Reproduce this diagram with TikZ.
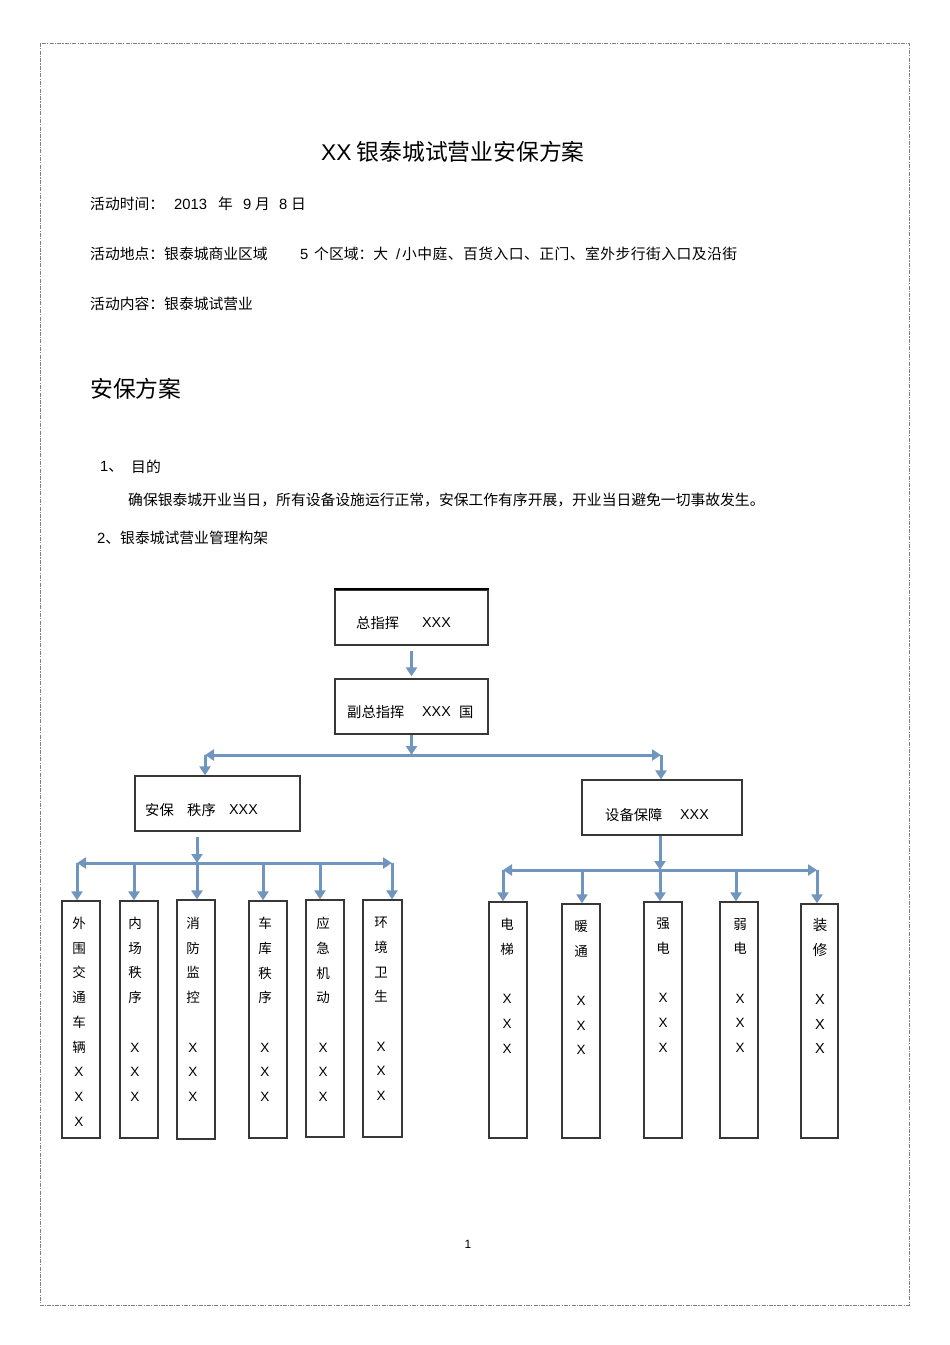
\documentclass[tikz,border=0pt]{standalone}
\usepackage{fontspec}
\setmainfont{Noto Sans CJK SC}
\newfontfamily\lat{Liberation Sans}
\newfontfamily\cjkwide[LetterSpace=3]{Noto Sans CJK SC}
\usetikzlibrary{arrows.meta}
\definecolor{arrblue}{RGB}{112,150,192}
\definecolor{boxgray}{RGB}{55,55,55}
\begin{document}
\begin{tikzpicture}[x=1pt,y=-1pt,
 txt/.style={anchor=west,inner sep=0,font=\fontsize{14.8}{17}\selectfont},
 bigtxt/.style={anchor=west,inner sep=0,font=\fontsize{22.8}{26}\selectfont},
 boxtxt/.style={anchor=west,inner sep=0,font=\fontsize{14.3}{17}\selectfont},
 frame/.style={draw=boxgray,line width=1.3pt,inner sep=0},
 conn/.style={draw=arrblue,line width=3pt,-{Triangle[width=11pt,length=9pt]}},
 col/.style={anchor=north,inner sep=0,align=center,font=\fontsize{13.5}{24.7}\selectfont}
]
\useasboundingbox (0,0) rectangle (950,1345);
\draw[gray,line width=0.8pt,dash pattern=on 4pt off 1.2pt on 1.2pt off 1.2pt] (40,43) rectangle (909,1305);

% title and texts
\node[bigtxt] (title) at (321,152) {{\lat XX} 银泰城试营业安保方案};
\node[txt] (d1) at (90,204) {活动时间：};
\node[txt] (d1a) at (174,204) {\lat 2013};
\node[txt] (d1b) at (218,204) {年};
\node[txt] (d1c) at (243,204) {\lat 9};
\node[txt] (d1d) at (255,204) {月};
\node[txt] (d1e) at (279,204) {\lat 8};
\node[txt] (d1f) at (291,204) {日};
\node[txt] (d2) at (90,254) {活动地点：银泰城商业区域};
\node[txt] (d2a) at (300,254) {\lat 5};
\node[txt] (d2b) at (314,254) {个区域：大};
\node[txt] (d2c) at (396,254) {\lat /};
\node[txt] (d2d) at (402,254) {\cjkwide 小中庭、百货入口、正门、室外步行街入口及沿街};
\node[txt] (d3) at (90,304) {活动内容：银泰城试营业};
\node[bigtxt] (h1) at (90,389) {安保方案};
\node[txt] (s1) at (100,467) {{\lat 1}、};
\node[txt] (s1b) at (131,467) {目的};
\node[txt] (s1c) at (128,500) {确保银泰城开业当日，所有设备设施运行正常，安保工作有序开展，开业当日避免一切事故发生。};
\node[txt] (s2) at (97,538) {{\lat 2}、银泰城试营业管理构架};
\node[anchor=center,inner sep=0,font=\lat\fontsize{12}{14}\selectfont] (pg) at (468,1244) {1};

% top boxes
\node[frame,minimum width=153pt,minimum height=55pt] (zz) at (411.5,617.5) {};
\draw[black,line width=2pt] (zz.north west) -- (zz.north east);
\node[boxtxt] (zzt) at (356,623) {总指挥};
\node[boxtxt] (zzx) at (422,623) {\lat XXX};
\node[frame,minimum width=153pt,minimum height=55pt] (fz) at (411.5,706.5) {};
\node[boxtxt] (fzt) at (347,712) {副总指挥};
\node[boxtxt] (fzx) at (422,712) {\lat XXX};
\node[boxtxt] (fzg) at (459,712) {国};
\node[frame,minimum width=165pt,minimum height=55pt] (ab) at (217.5,803.5) {};
\node[boxtxt] (abt1) at (145,810) {安保};
\node[boxtxt] (abt2) at (187,810) {秩序};
\node[boxtxt] (abx) at (229,810) {\lat XXX};
\node[frame,minimum width=160pt,minimum height=55pt] (sb) at (662,807.5) {};
\node[boxtxt] (sbt) at (605,815) {设备保障};
\node[boxtxt] (sbx) at (680,815) {\lat XXX};

% left columns
\node[frame,minimum width=38pt,minimum height=237pt] (b1) at (81,1019.5) {};
\node[frame,minimum width=38pt,minimum height=237pt] (b2) at (139,1019.5) {};
\node[frame,minimum width=38pt,minimum height=239pt] (b3) at (196,1019.5) {};
\node[frame,minimum width=38pt,minimum height=237pt] (b4) at (268,1019.5) {};
\node[frame,minimum width=38pt,minimum height=237pt] (b5) at (325,1018.5) {};
\node[frame,minimum width=39pt,minimum height=237pt] (b6) at (382.5,1018.5) {};
\node[col] (b1t) at (79,917) {外\\围\\交\\通\\车\\辆\\{\lat X}\\{\lat X}\\{\lat X}};
\node[col] (b2t) at (135,917) {内\\场\\秩\\序\\\mbox{}\\{\lat X}\\{\lat X}\\{\lat X}};
\node[col] (b3t) at (193,917) {消\\防\\监\\控\\\mbox{}\\{\lat X}\\{\lat X}\\{\lat X}};
\node[col] (b4t) at (265,917) {车\\库\\秩\\序\\\mbox{}\\{\lat X}\\{\lat X}\\{\lat X}};
\node[col] (b5t) at (323,917) {应\\急\\机\\动\\\mbox{}\\{\lat X}\\{\lat X}\\{\lat X}};
\node[col] (b6t) at (381,917) {环\\境\\卫\\生\\\mbox{}\\{\lat X}\\{\lat X}\\{\lat X}};

% right columns
\node[frame,minimum width=38pt,minimum height=236pt] (r1) at (508,1020) {};
\node[frame,minimum width=38pt,minimum height=234pt] (r2) at (581,1021) {};
\node[frame,minimum width=38pt,minimum height=236pt] (r3) at (663,1020) {};
\node[frame,minimum width=38pt,minimum height=236pt] (r4) at (739,1020) {};
\node[frame,minimum width=37pt,minimum height=234pt] (r5) at (819.5,1021) {};
\node[col] (r1t) at (507,918) {电\\梯\\\mbox{}\\{\lat X}\\{\lat X}\\{\lat X}};
\node[col] (r2t) at (581,920) {暖\\通\\\mbox{}\\{\lat X}\\{\lat X}\\{\lat X}};
\node[col] (r3t) at (663,918) {强\\电\\\mbox{}\\{\lat X}\\{\lat X}\\{\lat X}};
\node[col] (r4t) at (740,918) {弱\\电\\\mbox{}\\{\lat X}\\{\lat X}\\{\lat X}};
\node[col,font=\fontsize{14.5}{24.7}\selectfont] (r5t) at (820,918) {装\\修\\\mbox{}\\{\lat X}\\{\lat X}\\{\lat X}};

% connectors: top
\draw[conn,shorten <=5pt,shorten >=2pt] (zz.south) -- (fz.north);
\coordinate (hubT) at (411.5,755);
\coordinate (cTL) at (205,755);
\coordinate (cTR) at (661,755);
\draw[conn] (fz.south) -- (hubT);
\draw[conn] (hubT) -- (cTL);
\draw[conn] (hubT) -- (cTR);
\draw[conn] (cTL) -- (cTL |- ab.north);
\draw[conn] (cTR) -- (cTR |- sb.north);

% connectors: left
\coordinate (hubL) at (197,863);
\coordinate (cL1) at (77,863);
\coordinate (cL6) at (392,863);
\coordinate (mL2) at (134,863);
\coordinate (mL4) at (263,863);
\coordinate (mL5) at (320,863);
\draw[conn,shorten <=5pt] (ab.south -| hubL) -- (hubL);
\draw[conn] (hubL) -- (hubL |- b3.north);
\draw[conn] (hubL) -- (cL1);
\draw[conn] (hubL) -- (cL6);
\draw[conn] (cL1) -- (cL1 |- b1.north);
\draw[conn] (cL6) -- (cL6 |- b6.north);
\draw[conn] (mL2) -- (mL2 |- b2.north);
\draw[conn] (mL4) -- (mL4 |- b4.north);
\draw[conn] (mL5) -- (mL5 |- b5.north);

% connectors: right
\coordinate (hubR) at (660,870);
\coordinate (cR1) at (503,870);
\coordinate (cR5) at (817,870);
\coordinate (mR2) at (582,870);
\coordinate (mR4) at (736,870);
\draw[conn] (sb.south -| hubR) -- (hubR);
\draw[conn] (hubR) -- (hubR |- r3.north);
\draw[conn] (hubR) -- (cR1);
\draw[conn] (hubR) -- (cR5);
\draw[conn] (cR1) -- (cR1 |- r1.north);
\draw[conn] (cR5) -- (cR5 |- r5.north);
\draw[conn] (mR2) -- (mR2 |- r2.north);
\draw[conn] (mR4) -- (mR4 |- r4.north);
\end{tikzpicture}
\end{document}
